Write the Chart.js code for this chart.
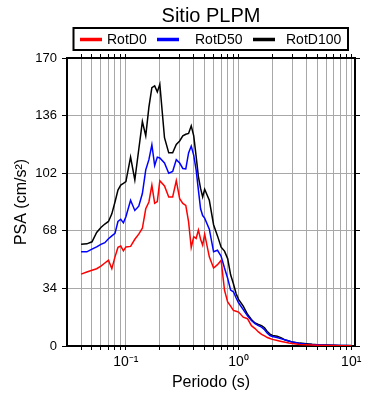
<!DOCTYPE html>
<html>
<head>
<meta charset="utf-8">
<script src="https://cdn.jsdelivr.net/npm/chart.js@4.4.0/dist/chart.umd.min.js"></script>
<style>
    body { margin: 0; background: #fff; }
    #wrap { width: 390px; height: 400px; }
</style>
</head>
<body>
<div id="wrap"><canvas id="psaChart" width="390" height="400"></canvas></div>
<script>
// Periods (s) and spectral accelerations (cm/s2)
const periods = [0.04,0.045,0.05,0.055,0.06,0.065,0.07,0.075,0.08,0.085,0.09,0.095,
    0.1,0.11,0.12,0.13,0.14,0.15,0.16,0.17,0.18,0.19,0.2,
    0.22,0.24,0.26,0.28,0.3,0.32,0.34,0.36,0.38,0.4,0.42,0.44,0.46,0.48,0.5,
    0.55,0.6,0.65,0.7,0.75,0.8,0.85,0.9,0.95,1.0,
    1.1,1.2,1.3,1.4,1.5,1.6,1.7,1.8,1.9,2.0,
    2.2,2.4,2.6,2.8,3.0,3.5,4.0,4.5,5.0,6.0,7.0,8.0,9.0,10.0];

const rotD0 = [42.4,43.7,44.7,45.6,47.2,49,50.6,45.7,52.6,58.2,59,56.2,
    58.5,58.8,63,66,69.5,81,85,95,84.2,85.2,97.6,
    94.5,88,88,97.6,87,84.2,83,73.3,58.2,64.5,63.5,68.4,63,59.5,66,
    52.6,46,48,50.6,33,26,23.5,21,20.5,20,
    17,16.1,12,10.3,8.3,6.9,6,5,4.4,3.9,
    3.3,2.7,2.2,1.8,1.5,0.9,0.7,0.55,0.45,0.35,0.28,0.22,0.2,0.18];

const rotD50 = [55.6,55.6,57.2,58.5,60,61,63.3,65,66.5,73.5,74.8,72.7,
    76.3,86,80,82.5,90,104,110,118.8,106.5,111.5,111,
    108,102,103,110,108,104.8,104.5,114,118,112.5,104,92,81,77,75.5,
    69,55.6,56.5,53,46,40,33,32,28.5,25.5,
    21.5,17.8,15,13.2,12,11.1,9.6,7.5,6.2,5.6,
    5.0,4.2,3.5,2.9,2.3,1.5,1.1,0.85,0.7,0.5,0.4,0.32,0.27,0.22];

const rotD100 = [60,60.3,61.5,67,70,72,73.5,78,85,92,95,96,
    97,111.5,98,116,132.5,124,141,152.5,153.5,150,154.5,
    123,114,114,119,121,124,125,125.5,130,124,112,100,93,88,92.5,
    86,71.6,65,58.3,56,51.6,42,36.7,31,27.5,
    23.5,18.7,15.6,13.6,12.7,12,10.8,8.5,7,6.2,
    5.8,4.8,3.5,2.9,2.3,1.7,1.3,1.0,0.8,0.6,0.45,0.35,0.3,0.25];

const seriesNames  = ["RotD0", "RotD50", "RotD100"];
const seriesColors = ["#ff0000", "#0000ff", "#000000"];
const seriesData   = [rotD0, rotD50, rotD100];

const xGridValues = [0.04,0.05,0.06,0.07,0.08,0.09,
    0.1,0.2,0.3,0.4,0.5,0.6,0.7,0.8,0.9,
    1,2,3,4,5,6,7,8,9,10];
const xTickLabels = { 0.1: "10\u207B\u00B9", 1: "10\u2070", 10: "10\u00B9" };
const yTicks = [0, 34, 68, 102, 136, 170];

const FONT = "'Liberation Sans', Arial, sans-serif";
const GRID = "#a8a8a8";


// Title and boxed legend above the frame
const headerPlugin = {
    id: "header",
    afterDraw(chart){
        const ctx = chart.ctx;
        ctx.save();
        ctx.fillStyle = "#000";
        ctx.font = `20px ${FONT}`;
        ctx.textAlign = "center";
        ctx.textBaseline = "alphabetic";
        ctx.fillText("Sitio PLPM", 211, 22);

        ctx.lineWidth = 2;
        ctx.strokeStyle = "#000";
        ctx.strokeRect(73.5, 28, 274.5, 22);

        const swatchX = [80, 157, 253];
        const textX   = [107, 195, 286];
        ctx.font = `14px ${FONT}`;
        ctx.textAlign = "left";
        ctx.textBaseline = "middle";
        seriesNames.forEach((name, i) => {
            ctx.strokeStyle = seriesColors[i];
            ctx.lineWidth = 3.5;
            ctx.beginPath();
            ctx.moveTo(swatchX[i], 39.5);
            ctx.lineTo(swatchX[i] + 22, 39.5);
            ctx.stroke();
            ctx.fillStyle = "#000";
            ctx.fillText(name, textX[i], 40);
        });
        ctx.restore();
    }
};

function setXTicks(scale){
    scale.ticks = xGridValues.map(v => ({ value: v }));
}
function setYTicks(scale){
    scale.ticks = yTicks.map(v => ({ value: v }));
}

new Chart(document.getElementById("psaChart"), {
    type: "line",
    data: {
        datasets: seriesNames.map((name, i) => ({
            label: name,
            data: periods.map((p, j) => ({ x: p, y: seriesData[i][j] })),
            borderColor: seriesColors[i],
            borderWidth: 1.5,
            pointRadius: 0,
            tension: 0,
            fill: false
        }))
    },
    options: {
        responsive: false,
        animation: false,
        devicePixelRatio: 1,
        layout: { padding: 0 },
        plugins: {
            legend: { display: false },
            title: { display: false },
            tooltip: { enabled: false }
        },
        scales: {
            x: {
                type: "logarithmic",
                position: "bottom",
                min: 0.03,
                max: 10.8,
                afterBuildTicks: setXTicks,
                afterFit: s => { s.height = 54; },
                ticks: {
                    autoSkip: false,
                    maxRotation: 0,
                    padding: 4,
                    color: "#000",
                    font: { family: FONT, size: 14 },
                    callback: v => xTickLabels[v] || ""
                },
                grid: { color: GRID, lineWidth: 1, tickLength: 4, tickColor: "#000" },
                border: { color: "#000", width: 2 },
                title: {
                    display: true,
                    text: "Periodo (s)",
                    color: "#000",
                    font: { family: FONT, size: 16 },
                    padding: { top: 0, bottom: 8 }
                }
            },
            x2: {
                type: "logarithmic",
                position: "top",
                min: 0.03,
                max: 10.8,
                afterBuildTicks: setXTicks,
                afterFit: s => { s.height = 58; },
                ticks: { autoSkip: false, maxRotation: 0, callback: () => "" },
                grid: { drawOnChartArea: false, tickLength: 4, color: "#000" },
                border: { color: "#000", width: 2 }
            },
            y: {
                type: "linear",
                position: "left",
                min: 0,
                max: 170,
                afterBuildTicks: setYTicks,
                afterFit: s => { s.width = 67; },
                ticks: {
                    padding: 5,
                    color: "#000",
                    font: { family: FONT, size: 13 }
                },
                grid: { color: GRID, lineWidth: 1, tickLength: 5, tickColor: "#000" },
                border: { color: "#000", width: 2 },
                title: {
                    display: true,
                    text: "PSA (cm/s\u00B2)",
                    color: "#000",
                    font: { family: FONT, size: 16 },
                    padding: { top: 12, bottom: 0 }
                }
            },
            y2: {
                type: "linear",
                position: "right",
                min: 0,
                max: 170,
                afterBuildTicks: setYTicks,
                afterFit: s => { s.width = 35; },
                ticks: { callback: () => "" },
                grid: { drawOnChartArea: false, tickLength: 5, color: "#000" },
                border: { color: "#000", width: 2 }
            }
        }
    },
    plugins: [headerPlugin]
});
</script>
</body>
</html>
